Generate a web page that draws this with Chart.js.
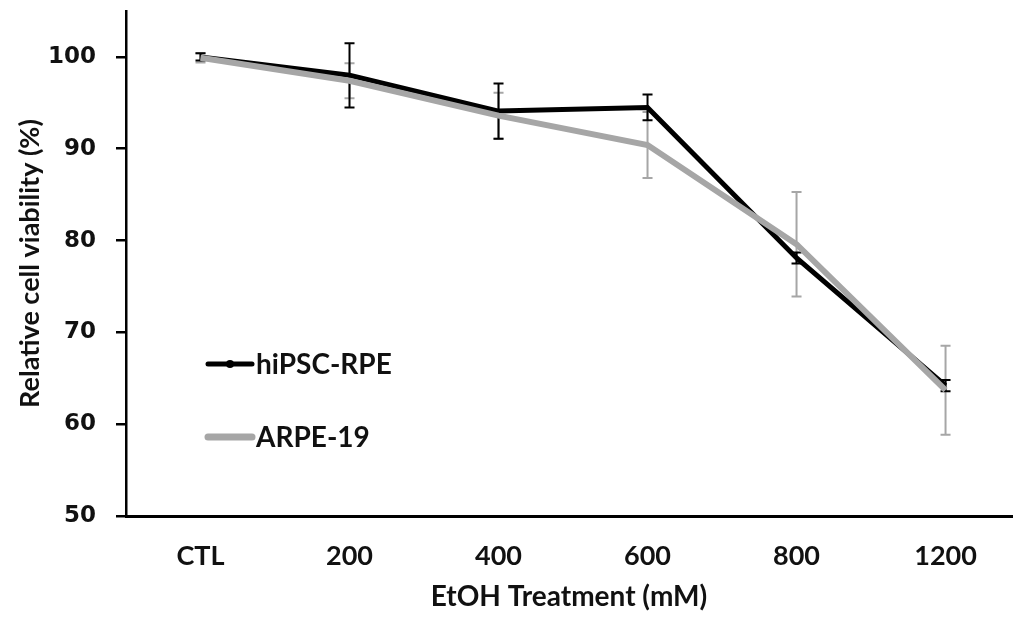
<!DOCTYPE html>
<html>
<head>
<meta charset="utf-8">
<script src="https://cdn.jsdelivr.net/npm/chart.js@4/dist/chart.umd.min.js"></script>
<style>
  html, body { margin: 0; padding: 0; background: #fff; }
  canvas { display: block; }
</style>
</head>
<body>
<canvas id="myChart" width="1014" height="617"></canvas>
<script>
// data
const categories = ["CTL", "200", "400", "600", "800", "1200"];
const hipscRpe = [100, 98.0, 94.1, 94.5, 78.1, 64.2];
const hipscErr = [0.4, 3.5, 3.0, 1.4, 0.6, 0.6];
const arpe19 = [99.9, 97.4, 93.6, 90.4, 79.6, 63.7];
const arpeErr = [0.5, 1.9, 2.5, 3.6, 5.7, 4.85];
const yTicks = [50, 60, 70, 80, 90, 100];

const BLACK = "#000000";
const GREY = "#a6a6a6";
const labelFont = "Lato";

const toPoints = (arr) => arr.map((v, i) => ({ x: i, y: v }));

// error bars go under the lines, like in excel
const errorBars = {
  id: "errorBars",
  beforeDatasetsDraw(chart) {
    const { ctx, scales: { x, y } } = chart;
    const sets = [
      { vals: arpe19, err: arpeErr, color: GREY },
      { vals: hipscRpe, err: hipscErr, color: BLACK }
    ];
    ctx.save();
    sets.forEach((s) => {
      ctx.strokeStyle = s.color;
      ctx.lineWidth = 2;
      s.vals.forEach((v, i) => {
        const px = x.getPixelForValue(i);
        const top = y.getPixelForValue(v + s.err[i]);
        const bot = y.getPixelForValue(v - s.err[i]);
        ctx.beginPath();
        ctx.moveTo(px, top); ctx.lineTo(px, bot);
        ctx.moveTo(px - 5, top); ctx.lineTo(px + 5, top);
        ctx.moveTo(px - 5, bot); ctx.lineTo(px + 5, bot);
        ctx.stroke();
      });
    });
    ctx.restore();
  }
};

// legend sits inside the plot, lower left
const innerLegend = {
  id: "innerLegend",
  afterDraw(chart) {
    const { ctx, chartArea: a } = chart;
    const x0 = a.left + 82;
    const len = 44;
    const rows = [
      { label: chart.data.datasets[0].label, color: BLACK, w: 5, dot: true, f: 0.699 },
      { label: chart.data.datasets[1].label, color: GREY, w: 7, dot: false, f: 0.8436 }
    ];
    ctx.save();
    rows.forEach((r) => {
      const yy = a.top + (a.bottom - a.top) * r.f;
      ctx.strokeStyle = r.color;
      ctx.lineWidth = r.w;
      ctx.lineCap = "round";
      ctx.beginPath();
      ctx.moveTo(x0, yy); ctx.lineTo(x0 + len, yy);
      ctx.stroke();
      if (r.dot) {
        ctx.fillStyle = r.color;
        ctx.beginPath();
        ctx.arc(x0 + len / 2, yy, 4, 0, Math.PI * 2);
        ctx.fill();
      }
      ctx.fillStyle = "#111";
      ctx.font = "bold 28px " + labelFont;
      ctx.textBaseline = "middle";
      ctx.fillText(r.label, x0 + len + 4, yy + 1);
    });
    ctx.restore();
  }
};

const config = {
  type: "line",
  data: {
    datasets: [
      {
        label: "hiPSC-RPE",
        data: toPoints(hipscRpe),
        borderColor: BLACK,
        borderWidth: 5,
        pointRadius: 0,
        tension: 0,
        order: 2
      },
      {
        label: "ARPE-19",
        data: toPoints(arpe19),
        borderColor: GREY,
        borderWidth: 6,
        pointRadius: 0,
        tension: 0,
        order: 1
      }
    ]
  },
  options: {
    responsive: false,
    animation: false,
    layout: { padding: { top: 11, right: 2, left: 0, bottom: 0 } },
    scales: {
      x: {
        type: "linear",
        min: -0.5,
        max: 5.446,
        afterBuildTicks: (s) => { s.ticks = categories.map((c, i) => ({ value: i })); },
        afterFit: (s) => { s.height = 101; s.paddingLeft = 0; s.paddingRight = 0; },
        grid: { display: false },
        border: { display: true, color: BLACK, width: 3 },
        ticks: {
          padding: 16,
          color: "#111",
          maxRotation: 0,
          autoSkip: false,
          font: { family: labelFont, size: 27, weight: "bold" },
          callback: (v) => categories[v] ?? ""
        },
        title: {
          display: true,
          text: "EtOH Treatment (mM)",
          color: "#111",
          padding: { top: 2, bottom: 3 },
          font: { family: labelFont, size: 28, weight: "bold" }
        }
      },
      y: {
        min: 50,
        max: 105,
        afterBuildTicks: (s) => { s.ticks = yTicks.map((v) => ({ value: v })); },
        afterFit: (s) => { s.width = 126; s.paddingTop = 0; s.paddingBottom = 0; },
        grid: {
          drawOnChartArea: false,
          drawTicks: true,
          tickLength: 10,
          color: BLACK,
          lineWidth: 2.5
        },
        border: { display: true, color: BLACK, width: 2.5 },
        ticks: {
          padding: 20,
          color: "#111",
          font: { family: "DejaVu Sans", size: 23, weight: "bold" }
        },
        title: {
          display: true,
          text: "Relative cell viability (%)",
          color: "#111",
          padding: { top: 14, bottom: 4 },
          font: { family: labelFont, size: 27, weight: "bold" }
        }
      }
    },
    plugins: {
      legend: { display: false },
      tooltip: { enabled: false }
    }
  },
  plugins: [errorBars, innerLegend]
};

const myChart = new Chart(document.getElementById("myChart"), config);
</script>
</body>
</html>
